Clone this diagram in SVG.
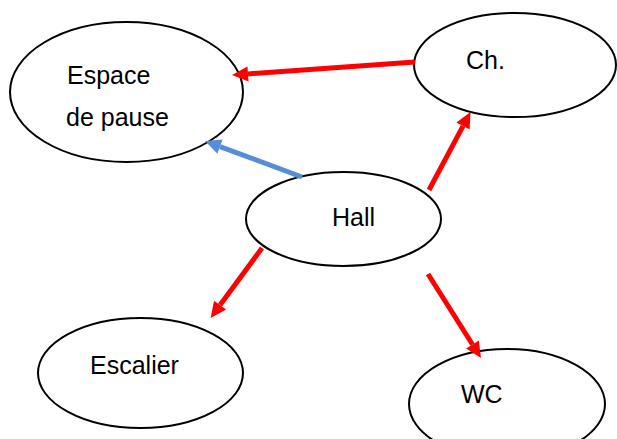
<svg xmlns="http://www.w3.org/2000/svg" width="617" height="439" viewBox="0 0 617 439">
<style>
.node ellipse{fill:#fff;stroke:#000;stroke-width:2}
.node text{font-family:"Liberation Sans",Arial,sans-serif;font-size:25px;fill:#000}
.red{stroke:#ff0000;stroke-width:5;fill:none;marker-end:url(#ah-red)}
.blue{stroke:#558ed5;stroke-width:5;fill:none;marker-end:url(#ah-blue)}
</style>
<defs>
<marker id="ah-red" markerUnits="userSpaceOnUse" markerWidth="17" markerHeight="16" refX="0" refY="7.5" orient="auto" viewBox="0 0 17 16" overflow="visible"><path d="M0,0 L16,7.5 L0,15 z" fill="#ff0000"/></marker>
<marker id="ah-blue" markerUnits="userSpaceOnUse" markerWidth="17" markerHeight="16" refX="0" refY="7.5" orient="auto" viewBox="0 0 17 16" overflow="visible"><path d="M0,0 L16,7.5 L0,15 z" fill="#558ed5"/></marker>
</defs>
<rect width="617" height="439" fill="#fff"/>
<g id="espace" class="node"><ellipse cx="126.5" cy="92" rx="116.5" ry="70"/><text x="67" y="84">Espace</text><text x="66" y="126">de pause</text></g>
<g id="ch" class="node"><ellipse cx="515" cy="65" rx="101" ry="52"/><text x="466" y="69">Ch.</text></g>
<g id="hall" class="node"><ellipse cx="343.5" cy="219" rx="97.5" ry="47"/><text x="332" y="226">Hall</text></g>
<g id="escalier" class="node"><ellipse cx="140.5" cy="373" rx="102.5" ry="55"/><text x="90" y="374">Escalier</text></g>
<g id="wc" class="node"><ellipse cx="507" cy="404" rx="98" ry="55"/><text x="461" y="403">WC</text></g>
<g id="connectors">
<line class="red" x1="415" y1="62" x2="248" y2="73.9"/>
<line class="blue" x1="302" y1="177" x2="220" y2="146.6"/>
<line class="red" x1="429" y1="190" x2="463" y2="126.1"/>
<line class="red" x1="262" y1="248" x2="220.1" y2="305.1"/>
<line class="red" x1="428" y1="274" x2="472.5" y2="344.5"/>
</g>
</svg>
